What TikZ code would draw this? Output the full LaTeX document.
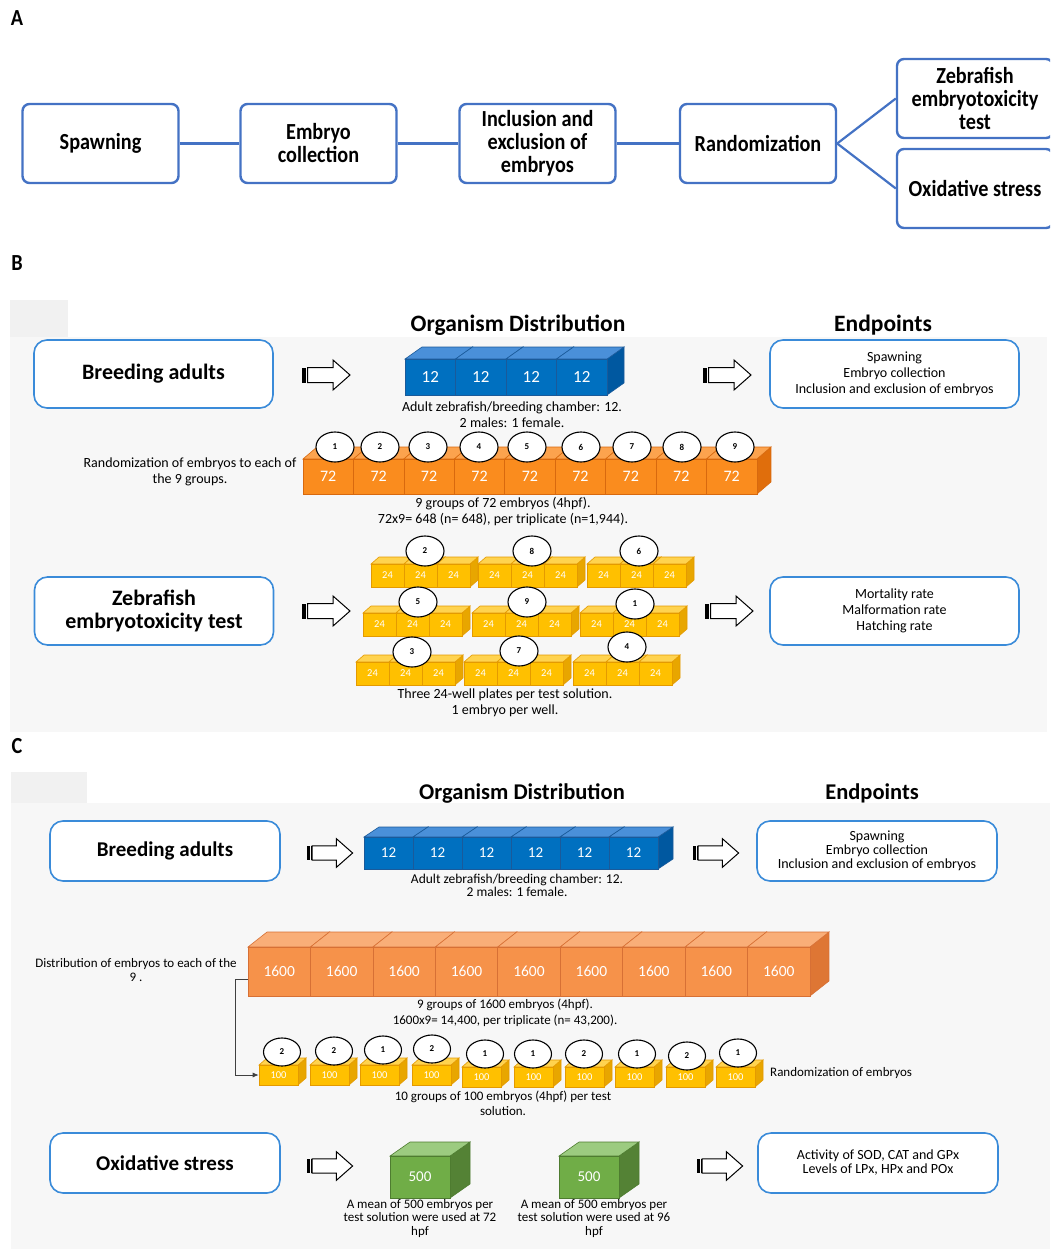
\documentclass[tikz,border=0pt]{standalone}
\usepackage{fontspec}
\setmainfont{Carlito}
\newfontfamily\etroite[FakeStretch=0.88]{Carlito}
\usetikzlibrary{shapes.geometric,arrows.meta}
\definecolor{bordA}{HTML}{4472C4}
\definecolor{bordB}{HTML}{3A8BD9}
\definecolor{fond}{HTML}{F7F7F7}
\definecolor{fond2}{HTML}{F1F1F1}
\definecolor{blF}{HTML}{0070C0}
\definecolor{blT}{HTML}{4A90D9}
\definecolor{blS}{HTML}{0058A0}
\definecolor{blL}{HTML}{1A5A9A}
\definecolor{orF}{HTML}{FA8C1E}
\definecolor{orT}{HTML}{FCA34E}
\definecolor{orS}{HTML}{E06E0C}
\definecolor{orL}{HTML}{D8690E}
\definecolor{jaF}{HTML}{FFC000}
\definecolor{jaT}{HTML}{FFD34F}
\definecolor{jaS}{HTML}{E8A600}
\definecolor{jaL}{HTML}{E49A00}
\definecolor{ocF}{HTML}{F6924A}
\definecolor{ocT}{HTML}{F9AE78}
\definecolor{ocS}{HTML}{DE7634}
\definecolor{ocL}{HTML}{D77035}
\definecolor{veF}{HTML}{70AD47}
\definecolor{veT}{HTML}{9CCB80}
\definecolor{veS}{HTML}{548235}
\definecolor{veL}{HTML}{4E7C30}

\begin{document}
\begin{tikzpicture}[x=1pt,y=-1pt]
\tikzset{
  etiq/.style={font=\etroite\bfseries\fontsize{23}{23}\selectfont, inner sep=0pt},
  boitA/.style={draw=bordA, line width=2.4pt, rounded corners=7pt, fill=white, minimum width=156pt, minimum height=79pt, align=center, font=\etroite\bfseries\fontsize{23}{23}\selectfont},
  lienA/.style={draw=bordA, line width=2.2pt},
  boitB/.style={draw=bordB, line width=1.6pt, rounded corners=13pt, fill=white, align=center, minimum width=239pt, minimum height=68pt},
  boitC/.style={boitB, minimum width=230pt, minimum height=60pt},
  grasB/.style={font=\bfseries\fontsize{22}{23}\selectfont},
  grasC/.style={font=\bfseries\fontsize{21}{22}\selectfont},
  titreB/.style={font=\bfseries\fontsize{23.5}{24}\selectfont, inner sep=0pt},
  titreC/.style={font=\bfseries\fontsize{22.5}{23}\selectfont, inner sep=0pt},
  petitB/.style={font=\fontsize{14}{16}\selectfont, align=center, inner sep=0pt},
  petitC/.style={font=\fontsize{13}{14}\selectfont, align=center, inner sep=0pt},
  rond/.style={ellipse, draw, line width=1.1pt, fill=white, minimum width=38pt, minimum height=30pt, inner sep=0pt, font=\bfseries\fontsize{9}{9}\selectfont},
  lienC/.style={draw=black!75, line width=0.8pt, -{Latex[length=6pt,width=5pt]}},
  chB/.style={font=\fontsize{17}{17}\selectfont},
  chO/.style={font=\fontsize{16}{16}\selectfont},
  ch24/.style={font=\fontsize{10.5}{10.5}\selectfont},
  chC/.style={font=\fontsize{15}{15}\selectfont},
  ch1600/.style={font=\fontsize{15.5}{15.5}\selectfont},
  ch100/.style={font=\fontsize{10.5}{10.5}\selectfont},
  ch500/.style={font=\fontsize{15}{15}\selectfont},
  blf/.style={draw=blL, fill=blF}, blt/.style={draw=blL, fill=blT}, bls/.style={draw=blL, fill=blS},
  orf/.style={draw=orL, fill=orF}, ort/.style={draw=orL, fill=orT}, ors/.style={draw=orL, fill=orS},
  jaf/.style={draw=jaL, fill=jaF}, jat/.style={draw=jaL, fill=jaT}, jas/.style={draw=jaL, fill=jaS},
  ocf/.style={draw=ocL, fill=ocF}, oct/.style={draw=ocL, fill=ocT}, ocs/.style={draw=ocL, fill=ocS},
  vef/.style={draw=veL, fill=veF}, vet/.style={draw=veL, fill=veT}, ves/.style={draw=veL, fill=veS},
  pics/boite/.style n args={6}{code={
    \draw[#1s, line width=0.6pt] (#2/2,-#3/2) -- ++(#4,-#5) -- ++(0,#3) -- (#2/2,#3/2) -- cycle;
    \draw[#1t, line width=0.6pt] (-#2/2,-#3/2) -- ++(#4,-#5) -- ++(#2,0) -- (#2/2,-#3/2) -- cycle;
    \node[#1f, line width=0.6pt, text=white, inner sep=0pt, minimum width=#2pt, minimum height=#3pt] (-f) at (0,0) {#6};
  }},
  pics/fleche/.style={code={
    \fill (0,-7.5) rectangle (3.5,7.5);
    \fill (4.5,-7.5) rectangle (5.5,7.5);
    \draw[fill=white, line width=1pt] (5.5,-7.5) -- (31,-7.5) -- (31,-15) -- (48,0) -- (31,15) -- (31,7.5) -- (5.5,7.5) -- cycle;
  }}
}
\useasboundingbox (0,0) rectangle (1050,1249);
\clip (0,0) rectangle (1050,1249);
\fill[white] (0,0) rectangle (1050,1249);
\fill[fond] (10,337) rectangle (1047,732);
\fill[fond2] (10,300) rectangle (68,337);
\fill[fond] (11,803) rectangle (1050,1249);
\fill[fond2] (11,772) rectangle (87,803);

\node[etiq] (lA) at (17,18) {A};
\node[boitA] (sp) at (100.5,143.5) {Spawning};
\node[boitA] (ec) at (318.5,143.5) {Embryo\\collection};
\node[boitA] (ie) at (537.5,143.5) {Inclusion and\\exclusion of\\embryos};
\node[boitA] (ra) at (758,143.5) {Randomization};
\node[boitA] (zf) at (975,98.5) {Zebrafish\\embryotoxicity\\test};
\node[boitA] (os) at (975,188.5) {Oxidative stress};
\draw[lienA] (sp) -- (ec);
\draw[lienA] (ec) -- (ie);
\draw[lienA] (ie) -- (ra);
\draw[lienA] (ra.east) -- (zf.west);
\draw[lienA] (ra.east) -- (os.west);

\node[etiq] (lB) at (17,263) {B};
\node[titreB] (odB) at (518,325) {Organism Distribution};
\node[titreB] (epB) at (883,325) {Endpoints};
\node[boitB, grasB] (baB) at (153.5,374) {Breeding adults};
\pic (fl1) at (302,375) {fleche};
\foreach \i in {0,...,3}
  \pic[chB] (bb\i) at ({430.25+50.5*\i},377) {boite={bl}{50.5}{36}{17}{12}{12}};
\node[petitB] (capB1) at (512,414.5) {Adult zebrafish/breeding chamber: 12.\\2 males: 1 female.};
\pic (fl2) at (703,375) {fleche};
\node[boitB, petitB, minimum width=249pt, minimum height=68pt] (epB1) at (894.5,374) {Spawning\\Embryo collection\\Inclusion and exclusion of embryos};

\node[petitB] (rdB) at (190,471.5) {Randomization of embryos to each of\\the 9 groups.};
\foreach \i in {0,...,8}
  \pic[chO] (ob\i) at ({328.2+50.44*\i},476.5) {boite={or}{50.44}{35}{14}{12}{72}};
\foreach \xx [count=\i] in {335,380,428,479,527,581,632,682,735}
  \node[rond] (cb\i) at (\xx,447) {\i};
\node[petitB] (capB2) at (503,512) {9 groups of 72 embryos (4hpf).\\72x9= 648 (n= 648), per triplicate (n=1,944).};

\node[boitB, grasB] (zetB) at (154,611) {Zebrafish\\embryotoxicity test};
\pic (fl3) at (302,611) {fleche};
\foreach \xd [count=\p] in {371,478,587}
  \foreach \k in {0,1,2}
    \pic[ch24] (pa\p\k) at ({\xd+16.5+33*\k},575.5) {boite={ja}{33}{23}{8}{7}{24}};
\node[rond] (ca1) at (425,551) {2};
\node[rond] (ca2) at (532,551) {8};
\node[rond] (ca3) at (639,551) {6};
\foreach \xd [count=\p] in {363,472,580}
  \foreach \k in {0,1,2}
    \pic[ch24] (pb\p\k) at ({\xd+16.5+33*\k},624.5) {boite={ja}{33}{23}{8}{7}{24}};
\node[rond] (cc1) at (418,602) {5};
\node[rond] (cc2) at (527,602) {9};
\node[rond] (cc3) at (635,604) {1};
\foreach \xd [count=\p] in {356,464,573}
  \foreach \k in {0,1,2}
    \pic[ch24] (pc\p\k) at ({\xd+16.5+33*\k},673.5) {boite={ja}{33}{23}{8}{7}{24}};
\node[rond] (cd1) at (412,652) {3};
\node[rond] (cd2) at (519,651) {7};
\node[rond] (cd3) at (627,647) {4};
\node[petitB] (capB3) at (505,702.5) {Three 24-well plates per test solution.\\1 embryo per well.};
\pic (fl4) at (705,611) {fleche};
\node[boitB, petitB, minimum width=249pt, minimum height=68pt] (epB2) at (894.5,611) {Mortality rate\\Malformation rate\\Hatching rate};

\node[etiq] (lC) at (17,746) {C};
\node[titreC] (odC) at (522,793) {Organism Distribution};
\node[titreC] (epC) at (872,793) {Endpoints};
\node[boitC, grasC] (baC) at (165,851) {Breeding adults};
\pic[scale=0.95] (fl5) at (307,853) {fleche};
\foreach \i in {0,...,5}
  \pic[chC] (bc\i) at ({388.5+49*\i},853) {boite={bl}{49}{32}{15}{10}{12}};
\node[petitC, font=\fontsize{13.5}{13}\selectfont] (capC1) at (517,885.5) {Adult zebrafish/breeding chamber: 12.\\2 males: 1 female.};
\pic[scale=0.95] (fl6) at (693,853) {fleche};
\node[boitC, petitC, font=\fontsize{14}{14}\selectfont, minimum width=240pt] (epC1) at (877,851) {Spawning\\Embryo collection\\Inclusion and exclusion of embryos};

\node[petitC] (dsC) at (136,970) {Distribution of embryos to each of the\\9 .};
\foreach \i in {0,...,8}
  \pic[ch1600] (oc\i) at ({279.22+62.44*\i},971.5) {boite={oc}{62.44}{49}{19}{15}{1600}};
\node[petitC, font=\fontsize{13}{15.5}\selectfont] (capC2) at (505,1013) {9 groups of 1600 embryos (4hpf).\\1600x9= 14,400, per triplicate (n= 43,200).};
\foreach \xl/\yy [count=\i] in {259/1075,310/1075,360/1075,412/1075,462/1077,514/1077,565/1077,615/1077,666/1077,716/1077}
  \pic[ch100] (yc\i) at ({\xl+19.5},\yy) {boite={ja}{39}{20}{8}{7}{100}};
\foreach \xx/\yy/\nn [count=\i] in {282/1052/2,334/1051/2,383/1050/1,432/1049/2,485/1054/1,533/1054/1,584/1054/2,637/1054/1,687/1056/2,738/1053/1}
  \node[rond, minimum width=37pt, minimum height=28pt] (rc\i) at (\xx,\yy) {\nn};
\draw[lienC] ([yshift=-7.5pt]oc0-f.west) -- ++(-12,0) |- (yc1-f.west);
\node[petitC, anchor=west] (rdC) at (770,1073) {Randomization of embryos};
\node[petitC, font=\fontsize{13}{15}\selectfont] (capC3) at (503,1103.5) {10 groups of 100 embryos (4hpf) per test\\solution.};

\node[boitC, grasC] (osC) at (165,1163) {Oxidative stress};
\pic[scale=0.95] (fl7) at (307,1166) {fleche};
\pic[ch500] (vc1) at (420,1177) {boite={ve}{60}{42}{20}{14}{500}};
\pic[ch500] (vc2) at (589,1177) {boite={ve}{60}{42}{20}{14}{500}};
\node[petitC, font=\fontsize{13}{13.5}\selectfont] (capC4) at (420,1218.5) {A mean of 500 embryos per\\test solution were used at 72\\hpf};
\node[petitC, font=\fontsize{13}{13.5}\selectfont] (capC5) at (594,1218.5) {A mean of 500 embryos per\\test solution were used at 96\\hpf};
\pic[scale=0.95] (fl8) at (697,1166) {fleche};
\node[boitC, petitC, font=\fontsize{14}{14}\selectfont, minimum width=240pt] (epC2) at (878,1163) {Activity of SOD, CAT and GPx\\Levels of LPx, HPx and POx};
\end{tikzpicture}
\end{document}
